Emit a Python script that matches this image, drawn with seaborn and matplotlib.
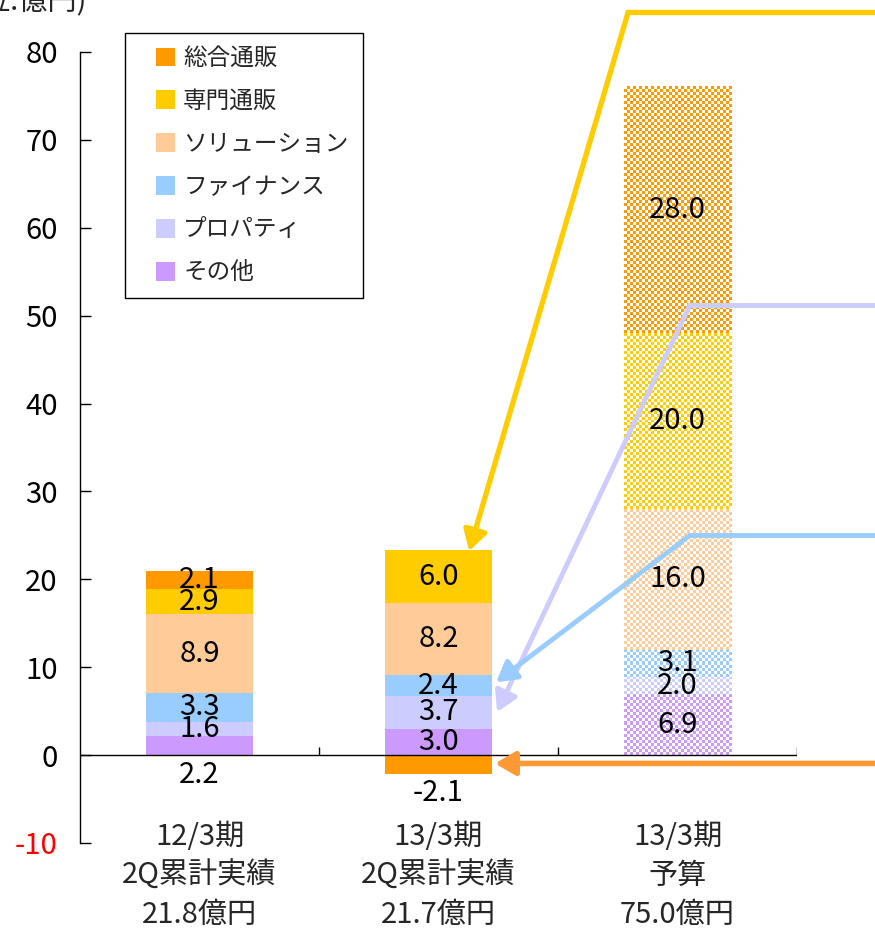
import numpy as np
import matplotlib
matplotlib.use("Agg")
import matplotlib.pyplot as plt
import matplotlib.colors as mcolors
from matplotlib.patches import Patch, Rectangle
from matplotlib.legend_handler import HandlerPatch
from matplotlib.transforms import blended_transform_factory
import seaborn as sns

# data (stack order: bottom -> top)
periods = ["12/3期\n2Q累計実績\n21.8億円", "13/3期\n2Q累計実績\n21.7億円", "13/3期\n予算\n75.0億円"]
segments = ["その他", "プロパティ", "ファイナンス", "ソリューション", "専門通販", "総合通販"]
sonota = [2.2, 3.0, 6.9]
prop = [1.6, 3.7, 2.0]
finance = [3.3, 2.4, 3.1]
solution = [8.9, 8.2, 16.0]
senmon = [2.9, 6.0, 20.0]
sogo = [2.1, -2.1, 28.0]
values = [sonota, prop, finance, solution, senmon, sogo]
yticks = list(range(-10, 90, 10))

colors = {
    "総合通販": "#FF9900",
    "専門通販": "#FFCC00",
    "ソリューション": "#FFCC99",
    "ファイナンス": "#99CCFF",
    "プロパティ": "#CCCCFF",
    "その他": "#CC99FF",
}
forecast_idx = 2  # hatched (budget) bar
label_y_override = {(0, "その他"): -2.3, (1, "総合通販"): -4.3}

sns.set_theme(style="white")
plt.rcParams["font.family"] = ["Noto Sans CJK JP", "DejaVu Sans"]

fig = plt.figure(figsize=(8.75, 9.31), dpi=100)
ax = fig.add_axes([80 / 875, 88 / 931, 717 / 875, 791 / 931])

x = np.arange(len(periods))
pos_bottom = np.zeros(len(periods))
neg_bottom = np.zeros(len(periods))


def checker(color, rows, cols):
    img = np.ones((rows, cols, 3))
    mask = np.add.outer(np.arange(rows), np.arange(cols)) % 2 == 0
    img[mask] = mcolors.to_rgb(color)
    return img


for name, vals in zip(segments, values):
    vals = np.array(vals, dtype=float)
    bottoms = np.where(vals >= 0, pos_bottom, neg_bottom)
    bars = ax.bar(x, vals, width=0.45, bottom=bottoms, color=colors[name],
                  linewidth=0, zorder=2)
    # checkered fill for budget bar
    p = bars[forecast_idx]
    p.set_facecolor("none")
    x0, w = p.get_x(), p.get_width()
    y0, h = p.get_y(), p.get_height()
    rows = max(1, int(round(abs(h) * 8.79 / 3)))
    ax.imshow(checker(colors[name], rows, 36), extent=[x0, x0 + w, y0, y0 + h],
              aspect="auto", interpolation="nearest", origin="lower", zorder=2)
    for i, (b, v) in enumerate(zip(bottoms, vals)):
        ly = label_y_override.get((i, name), b + v / 2)
        ax.text(x[i], ly, f"{v:.1f}", ha="center", va="center", fontsize=21,
                color="black", zorder=6)
    pos_bottom += np.clip(vals, 0, None)
    neg_bottom += np.clip(vals, None, 0)

ax.set_xlim(-0.5, 2.5)
ax.set_ylim(-10, 80)

# axes styling
for s in ["top", "right", "bottom"]:
    ax.spines[s].set_visible(False)
ax.spines["left"].set_color("black")
ax.spines["left"].set_linewidth(1)
ax.set_yticks(yticks)
ax.set_yticklabels([str(t) for t in yticks])
ax.tick_params(axis="y", direction="in", length=8, width=1, pad=16,
               labelsize=21, left=True, colors="black")
ax.get_yticklabels()[0].set_color("red")
ax.set_xticks([])
ax.axhline(0, color="black", lw=1, zorder=3)
ax.vlines([0.5, 1.5, 2.5], 0, 0.9, color="black", lw=1, zorder=3)

# category labels
trans = blended_transform_factory(ax.transData, fig.transFigure)
for i, lab in enumerate(periods):
    ax.text(x[i], 1 - 876 / 931, lab, transform=trans, ha="center", va="center",
            fontsize=21, linespacing=1.4)

# unit label (partly cut off at the top)
fig.text(87 / 875, 1 - 10 / 931, "(単位:億円)", ha="right", va="baseline", fontsize=21)


# legend: small square placed at the right end of the handle box
def square_patch(legend, orig_handle, xdescent, ydescent, width, height, fontsize):
    s = 0.8 * fontsize
    return Rectangle((width - xdescent - s, (height - s) / 2 - ydescent), s, s)


handles = [Patch(facecolor=colors[n], edgecolor="none", label=n) for n in reversed(segments)]
leg = ax.legend(handles=handles, loc="upper left",
                bbox_to_anchor=((125 - 80) / 717, (843 - 33) / 791),
                fontsize=17, frameon=True, fancybox=False, edgecolor="black",
                framealpha=1, handlelength=1.5, handleheight=0.8,
                handletextpad=0.36, labelspacing=0.84, borderpad=0.6,
                borderaxespad=0,
                handler_map={Patch: HandlerPatch(patch_func=square_patch)})
leg.get_frame().set_linewidth(1)
leg.set_zorder(7)

# arrows from the right side to the 13/3 2Q bar
arrows = [
    ("#FFCC00", [(2.83, 84.5), (1.793, 84.5)], (1.128, 23.2), 3.8),
    ("#CCCCFF", [(2.83, 51.2), (2.052, 51.2)], (1.245, 4.9), 3.5),
    ("#99CCFF", [(2.83, 25.0), (2.052, 25.0)], (1.241, 8.3), 3.5),
    ("#FF9933", [(2.83, -0.95)], (1.236, -0.95), 4.0),
]
for c, path, tip, lw in arrows:
    xs = [p[0] for p in path]
    ys = [p[1] for p in path]
    if len(path) > 1:
        ax.plot(xs, ys, color=c, lw=lw, clip_on=False, zorder=8,
                solid_capstyle="projecting", solid_joinstyle="miter")
    ax.annotate("", xy=tip, xytext=path[-1], annotation_clip=False, zorder=8,
                arrowprops=dict(arrowstyle="-|>,head_length=0.55,head_width=0.32",
                                color=c, lw=lw, shrinkA=0, shrinkB=0,
                                mutation_scale=22))

fig.savefig("out.png", dpi=100)
